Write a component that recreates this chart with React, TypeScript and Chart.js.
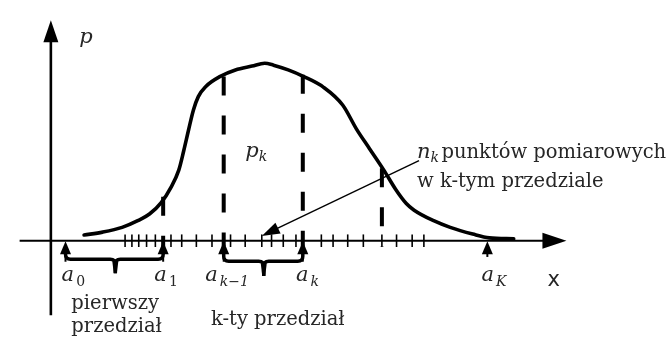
import React, { useEffect, useRef } from 'react';
import { Chart, registerables } from 'chart.js';

Chart.register(...registerables);

// Probability density curve p(x)
const curveX = [3.4, 5.3, 7.3, 8.9, 10.1, 11.3, 12.3, 13.1, 13.6, 14.1, 14.6, 15.1, 15.9, 17.3, 18.9, 20.6, 21.9, 22.8, 24.3, 25.9, 27.9, 29.9, 31.3, 32.6, 34.1, 35.3, 36.4, 37.2, 39.2, 40.9, 43.2, 44.9, 47.4];
const curveP = [0.6, 0.9, 1.4, 2.1, 2.8, 4.0, 5.6, 7.4, 9.4, 11.6, 13.7, 15.1, 16.2, 17.2, 17.9, 18.3, 18.6, 18.4, 17.9, 17.2, 16.1, 14.2, 11.7, 9.7, 7.4, 5.4, 3.9, 3.2, 2.1, 1.4, 0.7, 0.3, 0.2];

// Measurement points marked on the x axis
const measureX = [7.6, 8.3, 9.0, 9.8, 10.7, 12.3, 13.4, 14.9, 16.5, 18.4, 19.9, 21.6, 22.6, 23.8, 25.1, 27.7, 28.9, 30.4, 32.0, 33.9, 35.4, 37.0, 38.2];

// Interval boundaries a_0, a_1, a_{k-1}, a_k, a_K
const boundaryX = [1.5, 11.5, 17.7, 25.8, 44.7];
const boundarySub = ['0', '1', 'k\u22121', 'k', 'K'];

// Dashed verticals: position and height where they meet the curve
const dashX = [11.5, 17.7, 25.8, 33.9];
const dashTop = [4.6, 17.2, 17.4, 7.6];

// Braces under the axis: [from, to, middle]
const braceFrom = [1.5, 17.7];
const braceTo = [11.5, 25.8];
const braceMid = [6.6, 21.8];

const serif = '"DejaVu Serif", "Liberation Serif", serif';
const sans = '"DejaVu Sans", "Liberation Sans", sans-serif';
const ink = '#262626';

type Part = { text: string; font: string; dy?: number; gap?: number };

function drawRun(ctx: CanvasRenderingContext2D, x: number, y: number, parts: Part[]) {
  let cx = x;
  for (const p of parts) {
    ctx.font = p.font;
    ctx.fillText(p.text, cx, y + (p.dy || 0));
    cx += ctx.measureText(p.text).width + (p.gap || 0);
  }
}

function arrowHead(ctx: CanvasRenderingContext2D, tx: number, ty: number, fx: number, fy: number, len: number, half: number) {
  const ang = Math.atan2(ty - fy, tx - fx);
  const bx = tx - Math.cos(ang) * len;
  const by = ty - Math.sin(ang) * len;
  const nx = -Math.sin(ang) * half;
  const ny = Math.cos(ang) * half;
  ctx.beginPath();
  ctx.moveTo(tx, ty);
  ctx.lineTo(bx + nx, by + ny);
  ctx.lineTo(bx - nx, by - ny);
  ctx.closePath();
  ctx.fill();
}

const diagramPlugin = {
  id: 'histDiagram',
  afterDatasetsDraw(chart: any) {
    const ctx: CanvasRenderingContext2D = chart.ctx;
    const xs = chart.scales.x;
    const ys = chart.scales.y;
    const X = (v: number) => xs.getPixelForValue(v);
    const Y = (v: number) => ys.getPixelForValue(v);
    ctx.save();
    ctx.fillStyle = '#000';
    ctx.strokeStyle = '#000';

    // axis arrowheads
    arrowHead(ctx, X(52.8), Y(0), X(50.0), Y(0), 24, 8);
    arrowHead(ctx, X(0), Y(23.1), X(0), Y(20.0), 22, 7.5);

    // boundary arrows pointing up at the axis
    boundaryX.forEach((bx, i) => {
      const stemEnd = i === boundaryX.length - 1 ? Y(-1.7) : Y(-2.2);
      ctx.lineWidth = 2;
      ctx.beginPath();
      ctx.moveTo(X(bx), Y(-1.0));
      ctx.lineTo(X(bx), stemEnd);
      ctx.stroke();
      arrowHead(ctx, X(bx), Y(-0.05), X(bx), Y(-2), 13, 5.5);
    });

    // braces
    ctx.lineWidth = 3.5;
    ctx.lineJoin = 'round';
    ctx.lineCap = 'butt';
    braceFrom.forEach((l, i) => {
      const xl = X(l), xr = X(braceTo[i]), xm = X(braceMid[i]);
      const barY = Y(i === 0 ? -1.95 : -2.15);
      const tipY = Y(i === 0 ? -3.4 : -3.7);
      const r = 5;
      ctx.beginPath();
      ctx.moveTo(xl, Y(-1.2));
      ctx.lineTo(xl, barY - r);
      ctx.quadraticCurveTo(xl, barY, xl + r, barY);
      ctx.lineTo(xm - r, barY);
      ctx.quadraticCurveTo(xm, barY, xm, barY + r);
      ctx.lineTo(xm, tipY);
      ctx.moveTo(xm, barY + r);
      ctx.quadraticCurveTo(xm, barY, xm + r, barY);
      ctx.lineTo(xr - r, barY);
      ctx.quadraticCurveTo(xr, barY, xr, barY - r);
      ctx.lineTo(xr, Y(-1.2));
      ctx.stroke();
      // wedge at the brace point
      ctx.beginPath();
      ctx.moveTo(xm - 3, barY + 2);
      ctx.lineTo(xm + 3, barY + 2);
      ctx.lineTo(xm + 1.5, tipY);
      ctx.lineTo(xm - 1.5, tipY);
      ctx.closePath();
      ctx.fill();
    });

    // pointer from the annotation to the k-th interval
    ctx.lineWidth = 1.4;
    ctx.beginPath();
    ctx.moveTo(X(37.7), Y(8.4));
    ctx.lineTo(X(22.6), Y(1.0));
    ctx.stroke();
    arrowHead(ctx, X(21.6), Y(0.5), X(37.7), Y(8.4), 18, 6);

    // labels
    ctx.fillStyle = ink;
    ctx.textBaseline = 'alphabetic';
    ctx.textAlign = 'left';
    const it = `italic 21px ${serif}`;
    const itSub = `italic 14px ${serif}`;
    const rm = `19.5px ${serif}`;

    drawRun(ctx, X(2.9), Y(20.7), [{ text: 'p', font: it }]);
    drawRun(ctx, X(19.9), Y(8.8), [{ text: 'p', font: it, gap: 0 }, { text: 'k', font: itSub, dy: 4 }]);
    drawRun(ctx, X(37.5), Y(8.7), [{ text: 'n', font: it, gap: 0 }, { text: 'k', font: itSub, dy: 4 }]);
    drawRun(ctx, X(40.0), Y(8.7), [{ text: 'punktów pomiarowych', font: rm }]);
    drawRun(ctx, X(37.5), Y(5.6), [{ text: 'w k-tym przedziale', font: rm }]);

    const labelX = [1.1, 10.6, 15.8, 25.1, 44.1];
    boundarySub.forEach((s, i) => {
      drawRun(ctx, X(labelX[i]), Y(-4.2), [
        { text: 'a', font: it, gap: 2 },
        { text: s, font: `${s === '0' || s === '1' ? '' : 'italic '}14px ${serif}`, dy: 5 },
      ]);
    });

    ctx.font = `21px ${sans}`;
    ctx.textAlign = 'center';
    ctx.fillText('x', X(51.5), Y(-4.7));
    ctx.textAlign = 'left';

    drawRun(ctx, X(2.1), Y(-7.2), [{ text: 'pierwszy', font: rm }]);
    drawRun(ctx, X(2.1), Y(-9.6), [{ text: 'przedział', font: rm }]);
    drawRun(ctx, X(16.4), Y(-8.8), [{ text: 'k-ty przedział', font: rm }]);

    ctx.restore();
  },
};

export default function App() {
  const canvasRef = useRef<HTMLCanvasElement>(null);

  useEffect(() => {
    const canvas = canvasRef.current;
    if (!canvas) return;

    const datasets: any[] = [
      // x axis
      {
        type: 'line',
        data: [{ x: -3.2, y: 0 }, { x: 51, y: 0 }],
        borderColor: '#000',
        borderWidth: 2.2,
        pointRadius: 0,
      },
      // y axis
      {
        type: 'line',
        data: [{ x: 0, y: -7.8 }, { x: 0, y: 21 }],
        borderColor: '#000',
        borderWidth: 2.6,
        pointRadius: 0,
      },
      // density curve
      {
        type: 'line',
        data: curveX.map((x, i) => ({ x, y: curveP[i] })),
        borderColor: '#000',
        borderWidth: 3.6,
        pointRadius: 0,
        tension: 0.4,
        cubicInterpolationMode: 'monotone',
        borderCapStyle: 'round',
        borderJoinStyle: 'round',
      },
      // measurement ticks
      {
        type: 'scatter',
        data: measureX.map((x) => ({ x, y: 0 })),
        pointStyle: 'line',
        rotation: 90,
        pointRadius: 6.3,
        pointBorderWidth: 1.6,
        borderColor: '#000',
        showLine: false,
      },
      // dashed interval borders
      ...dashX.map((x, i) => ({
        type: 'line',
        data: [{ x, y: dashTop[i] }, { x, y: -0.6 }],
        borderColor: '#000',
        borderWidth: 4,
        borderDash: [19, 20],
        borderCapStyle: 'butt',
        pointRadius: 0,
      })),
    ];

    const chart = new Chart(canvas, {
      type: 'line',
      data: { datasets },
      options: {
        responsive: false,
        animation: false,
        devicePixelRatio: 1,
        layout: { padding: 0 },
        scales: {
          x: { type: 'linear', min: -4.4, max: 62.8, display: false },
          y: { type: 'linear', min: -10.1, max: 24.4, display: false },
        },
        plugins: {
          legend: { display: false },
          tooltip: { enabled: false },
        },
        events: [],
      } as any,
      plugins: [diagramPlugin],
    });

    return () => chart.destroy();
  }, []);

  return (
    <div style={{ position: 'absolute', left: 0, top: 0, width: 672, height: 345, background: '#fff' }}>
      <canvas ref={canvasRef} width={672} height={345} />
    </div>
  );
}
